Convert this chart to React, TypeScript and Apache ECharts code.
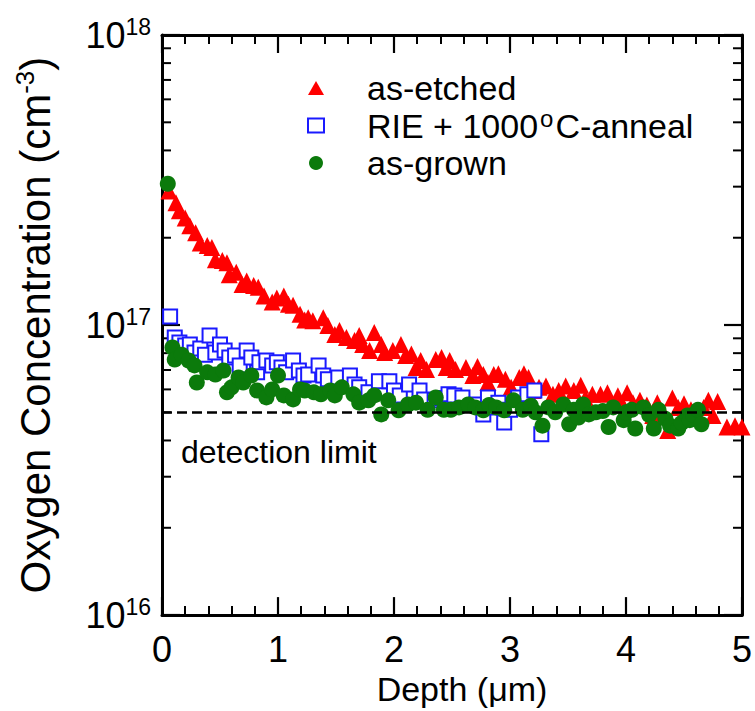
import React, { useEffect, useRef } from "react";
import * as echarts from "echarts";

// Depth (µm) vs oxygen concentration (in units of 1e16 cm^-3)
const UNIT = 1e16;
const detectionLimit = 5.0e16;
const xMin = 0;
const xMax = 5;
const yMin = 1e16;
const yMax = 1e18;
const minorYTicks = [2e16, 3e16, 4e16, 5e16, 6e16, 7e16, 8e16, 9e16, 2e17, 3e17, 4e17, 5e17, 6e17, 7e17, 8e17, 9e17];

const seriesNames = ["as-etched", "RIE + 1000°C-anneal", "as-grown"];

const asEtched: [number, number][] = [
  [0.06, 29.0], [0.12, 26.4], [0.15, 24.8], [0.2, 23.4], [0.24, 22.0], [0.29, 20.8], [0.33, 19.2],
  [0.39, 18.8], [0.43, 18.5], [0.46, 16.8], [0.52, 16.7], [0.56, 16.4], [0.58, 14.9], [0.64, 15.2],
  [0.69, 13.8], [0.73, 14.2], [0.79, 13.7], [0.83, 13.5], [0.88, 12.6], [0.95, 12.0], [0.99, 12.4],
  [1.05, 12.6], [1.09, 11.8], [1.13, 11.7], [1.19, 10.9], [1.23, 10.4], [1.26, 10.6], [1.3, 10.35],
  [1.39, 10.6], [1.43, 9.96], [1.49, 9.27], [1.53, 9.57], [1.59, 9.06], [1.66, 8.85], [1.7, 9.2],
  [1.73, 8.57], [1.79, 8.17], [1.83, 9.42], [1.89, 8.57], [1.92, 8.04], [1.99, 8.17], [2.06, 8.57],
  [2.1, 7.85], [2.15, 7.95], [2.19, 7.14], [2.23, 7.55], [2.28, 7.03], [2.36, 7.6], [2.41, 7.73],
  [2.45, 7.14], [2.48, 7.55], [2.53, 7.03], [2.62, 7.14], [2.68, 6.7], [2.72, 7.2], [2.77, 6.75],
  [2.81, 6.34], [2.86, 6.75], [2.9, 6.8], [2.96, 6.5], [3.01, 6.1], [3.08, 6.6], [3.12, 6.8],
  [3.16, 6.6], [3.2, 5.95], [3.25, 6.1], [3.31, 6.17], [3.37, 5.77], [3.42, 5.95], [3.48, 6.17],
  [3.55, 5.95], [3.61, 6.2], [3.65, 5.6], [3.71, 5.77], [3.78, 5.77], [3.84, 5.84], [3.93, 5.7],
  [3.97, 5.32], [4.01, 5.84], [4.06, 5.4], [4.12, 5.5], [4.18, 5.3], [4.23, 4.88], [4.27, 5.4],
  [4.32, 5.0], [4.36, 4.33], [4.4, 5.6], [4.45, 5.2], [4.5, 5.35], [4.56, 5.1], [4.62, 4.9],
  [4.67, 5.2], [4.71, 5.5], [4.75, 4.88], [4.79, 5.45], [4.87, 4.45], [4.94, 4.5], [5.0, 4.45],
];

const rieAnneal: [number, number][] = [
  [0.07, 10.7], [0.11, 9.06], [0.15, 8.7], [0.2, 8.5], [0.24, 8.57], [0.28, 8.04], [0.33, 8.3],
  [0.37, 7.9], [0.41, 9.2], [0.46, 8.04], [0.5, 8.57], [0.54, 8.17], [0.58, 7.73], [0.63, 7.85],
  [0.67, 7.26], [0.73, 8.17], [0.77, 7.73], [0.82, 6.87], [0.84, 7.45], [0.9, 7.55], [0.95, 7.26],
  [0.99, 7.45], [1.03, 7.14], [1.07, 6.87], [1.13, 7.55], [1.18, 6.97], [1.22, 6.7], [1.26, 6.75],
  [1.35, 7.26], [1.39, 6.7], [1.43, 6.5], [1.52, 6.6], [1.62, 6.7], [1.66, 6.24], [1.7, 6.1],
  [1.78, 5.86], [1.87, 6.4], [1.96, 6.4], [2.0, 5.95], [2.05, 5.72], [2.13, 6.24], [2.22, 5.95],
  [2.26, 5.54], [2.35, 5.5], [2.41, 5.6], [2.47, 5.77], [2.52, 5.72], [2.59, 5.63], [2.71, 5.32],
  [2.77, 4.92], [2.81, 5.63], [2.85, 5.2], [2.9, 5.4], [2.95, 4.61], [3.0, 5.1], [3.07, 5.63],
  [3.15, 5.77], [3.21, 5.95], [3.27, 4.2],
];

const asGrown: [number, number][] = [
  [0.05, 30.7], [0.09, 8.37], [0.11, 7.6], [0.17, 7.9], [0.23, 7.55], [0.28, 7.26], [0.3, 6.34],
  [0.39, 6.87], [0.46, 6.75], [0.53, 6.97], [0.56, 5.86], [0.6, 6.1], [0.66, 6.6], [0.7, 6.34],
  [0.77, 6.7], [0.82, 5.95], [0.9, 5.63], [0.95, 6.0], [1.0, 6.7], [1.05, 5.72], [1.13, 5.54],
  [1.19, 6.0], [1.23, 5.95], [1.31, 5.86], [1.37, 5.77], [1.45, 5.95], [1.49, 5.72], [1.55, 6.1],
  [1.65, 5.77], [1.7, 5.4], [1.78, 5.5], [1.83, 5.72], [1.89, 4.92], [1.95, 5.5], [2.04, 5.08],
  [2.12, 5.32], [2.19, 5.4], [2.29, 5.1], [2.36, 5.63], [2.43, 5.1], [2.49, 5.1], [2.56, 5.2],
  [2.64, 5.32], [2.7, 5.2], [2.77, 5.08], [2.82, 5.3], [2.88, 5.2], [2.95, 5.08], [3.03, 5.5],
  [3.11, 5.1], [3.18, 5.27], [3.22, 5.0], [3.28, 4.5], [3.33, 5.2], [3.39, 5.0], [3.46, 5.32],
  [3.51, 4.55], [3.55, 5.1], [3.59, 4.8], [3.63, 5.32], [3.68, 4.92], [3.74, 5.0], [3.8, 5.05],
  [3.85, 4.45], [3.89, 5.2], [3.98, 4.7], [4.0, 5.0], [4.05, 5.1], [4.08, 4.4], [4.15, 5.2],
  [4.2, 4.9], [4.24, 4.4], [4.28, 5.1], [4.34, 4.75], [4.38, 4.5], [4.45, 4.4], [4.48, 4.6],
  [4.53, 4.88], [4.55, 4.7], [4.58, 4.9], [4.62, 5.1], [4.65, 4.55],
];

const FONT = "'Liberation Sans', Arial, Helvetica, sans-serif";

export default function App() {
  const ref = useRef<HTMLDivElement>(null);

  useEffect(() => {
    if (!ref.current) return;
    const chart = echarts.init(ref.current, null, { renderer: "svg" });

    const axisLine = { show: true, onZero: false, lineStyle: { color: "#000", width: 3 } };
    const axisTick = { show: true, inside: true, length: 18, lineStyle: { color: "#000", width: 2.2 } };
    const minorTick = { show: true, splitNumber: 5, length: 9, lineStyle: { color: "#000", width: 2 } };

    const toData = (arr: [number, number][]) => arr.map(([x, y]) => [x, y * UNIT]);

    const option: any = {
      animation: false,
      backgroundColor: "#fff",
      textStyle: { fontFamily: FONT },
      grid: { left: 162, right: 13, top: 35, bottom: 93, containLabel: false },
      legend: {
        orient: "vertical",
        left: 302,
        top: 64,
        itemWidth: 16,
        itemHeight: 14,
        itemGap: -0.5,
        selectedMode: false,
        data: seriesNames,
        formatter: (name: string) => (name === seriesNames[1] ? "RIE + 1000{sup|o}C-anneal" : name),
        textStyle: {
          fontFamily: FONT,
          fontSize: 34,
          color: "#000",
          lineHeight: 38,
          padding: [0, 0, 0, 38],
          rich: { sup: { fontFamily: FONT, fontSize: 24, color: "#000", verticalAlign: "top", lineHeight: 18, padding: [0, 2, 0, 2] } },
        },
      },
      xAxis: [
        {
          type: "value",
          min: xMin,
          max: xMax,
          interval: 1,
          position: "bottom",
          axisLine,
          axisTick,
          minorTick,
          splitLine: { show: false },
          axisLabel: { fontFamily: FONT, fontSize: 36, color: "#000", margin: 16 },
          name: "Depth (μm)",
          nameLocation: "middle",
          nameGap: 54,
          nameTextStyle: { fontFamily: FONT, fontSize: 34, color: "#000", padding: [0, 0, 0, 20] },
        },
        {
          type: "value",
          min: xMin,
          max: xMax,
          interval: 1,
          position: "top",
          axisLine,
          axisTick,
          minorTick,
          splitLine: { show: false },
          axisLabel: { show: false },
        },
      ],
      yAxis: [
        {
          type: "log",
          logBase: 10,
          min: yMin,
          max: yMax,
          position: "left",
          axisLine,
          axisTick,
          splitLine: { show: false },
          axisLabel: {
            margin: 11,
            formatter: (v: number) => `{b|10}{s|${Math.round(Math.log10(v))}}`,
            rich: {
              b: { fontFamily: FONT, fontSize: 36, color: "#000", lineHeight: 40 },
              s: { fontFamily: FONT, fontSize: 23, color: "#000", verticalAlign: "top", lineHeight: 22 },
            },
          },
          name: "Oxygen Concentration (cm{sup|-3})",
          nameLocation: "middle",
          nameGap: 104,
          nameTextStyle: {
            fontFamily: FONT,
            fontSize: 42,
            color: "#000",
            lineHeight: 46,
            padding: [0, 0, 0, 0],
            rich: { sup: { fontFamily: FONT, fontSize: 26, color: "#000", verticalAlign: "top", lineHeight: 24 } },
          },
        },
        {
          type: "log",
          logBase: 10,
          min: yMin,
          max: yMax,
          position: "right",
          axisLine,
          axisTick,
          splitLine: { show: false },
          axisLabel: { show: false },
        },
      ],
      graphic: [
        {
          type: "text",
          left: 181,
          top: 436,
          style: { text: "detection limit", fontFamily: FONT, fontSize: 32, fill: "#000" },
        },
      ],
      series: [
        {
          type: "custom",
          name: "minor",
          silent: true,
          xAxisIndex: 0,
          yAxisIndex: 0,
          data: minorYTicks.map((v) => [0, v]),
          renderItem: (params: any, api: any) => {
            const y = api.coord([0, api.value(1)])[1];
            const cs = params.coordSys;
            const st = { stroke: "#000", lineWidth: 2 };
            return {
              type: "group",
              children: [
                { type: "line", shape: { x1: cs.x, y1: y, x2: cs.x + 9, y2: y }, style: st },
                { type: "line", shape: { x1: cs.x + cs.width - 9, y1: y, x2: cs.x + cs.width, y2: y }, style: st },
              ],
            };
          },
          markLine: {
            silent: true,
            symbol: ["none", "none"],
            label: { show: false },
            lineStyle: { color: "#000", width: 2.5, type: [10, 5] },
            data: [{ yAxis: detectionLimit }],
          },
          z: 1,
        },
        {
          type: "scatter",
          name: seriesNames[0],
          symbol: "triangle",
          symbolSize: 17,
          itemStyle: { color: "#ff0000", opacity: 1 },
          data: toData(asEtched),
          z: 2,
        },
        {
          type: "scatter",
          name: seriesNames[1],
          symbol: "emptyRect",
          symbolSize: 14,
          itemStyle: { color: "#1a1aff", borderWidth: 1.5, opacity: 1 },
          data: toData(rieAnneal),
          z: 3,
        },
        {
          type: "scatter",
          name: seriesNames[2],
          symbol: "circle",
          symbolSize: 16,
          itemStyle: { color: "#0b7a0b", opacity: 1 },
          data: toData(asGrown),
          z: 4,
        },
      ],
    };

    chart.setOption(option);
    return () => chart.dispose();
  }, []);

  return (
    <div
      ref={ref}
      style={{ position: "fixed", left: 0, top: 0, width: 755, height: 711, background: "#fff" }}
    />
  );
}
